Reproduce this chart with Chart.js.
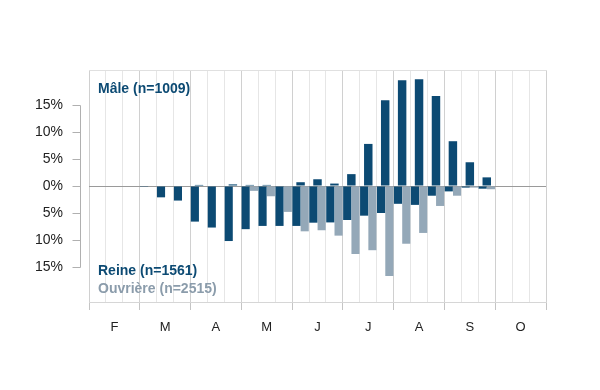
<!DOCTYPE html>
<html>
<head>
<meta charset="utf-8">
<script src="https://cdn.jsdelivr.net/npm/chart.js@4/dist/chart.umd.min.js"></script>
<style>
html,body{margin:0;padding:0;background:#fff;}
#wrap{width:600px;height:390px;position:relative;}
</style>
</head>
<body>
<div id="wrap"><canvas id="c" width="600" height="390"></canvas></div>
<script>
// ---- data (percent per ten-day period) ----
const slots = ['F1','F2','F3','M1','M2','M3','A1','A2','A3','M1b','M2b','M3b','J1','J2','J3',
               'Jl1','Jl2','Jl3','Ao1','Ao2','Ao3','S1','S2','S3','O1','O2','O3'];
const monthLabels = ['F','M','A','M','J','J','A','S','O'];
const male     = [0,0,0,0,0,0,0.2,0,0.3,0.2,0.2,0,0.7,1.25,0.45,2.2,7.8,15.9,19.6,19.8,16.7,8.3,4.4,1.6,0,0,0];
const reine    = [0,0,0,0.15,2.1,2.7,6.6,7.7,10.2,8.0,7.4,7.4,7.4,6.8,6.75,6.3,5.5,5.0,3.3,3.5,1.8,1.0,0.3,0.5,0,0,0];
const ouvriere = [0,0,0,0,0,0,0,0,0,0.9,1.9,4.8,8.4,8.2,9.2,12.6,11.9,16.7,10.7,8.7,3.7,1.8,0.3,0.6,0,0,0];
const yTicks = [-15,-10,-5,0,5,10,15];
const seriesNames = ['Mâle (n=1009)','Reine (n=1561)','Ouvrière (n=2515)'];

const DARK = '#0c4a73';
const LIGHT = '#94a8b8';
const LIGHT_TEXT = '#8b9cab';
const FONT = '"Liberation Sans", Arial, Helvetica, sans-serif';

const decor = {
  id: 'decor',
  afterDraw(chart) {
    const {ctx, chartArea, scales} = chart;
    const y = scales.y;
    const ax = Math.round(chartArea.left) - 9 + 0.5;
    ctx.save();
    ctx.strokeStyle = '#b0b0b0';
    ctx.lineWidth = 1;
    ctx.beginPath();
    ctx.moveTo(ax, Math.round(y.getPixelForValue(yTicks[yTicks.length-1])) + 0.5);
    ctx.lineTo(ax, Math.round(y.getPixelForValue(yTicks[0])) + 0.5);
    yTicks.forEach(v => {
      const py = Math.round(y.getPixelForValue(v)) + 0.5;
      ctx.moveTo(ax - 8, py);
      ctx.lineTo(ax, py);
    });
    ctx.stroke();

    ctx.font = 'bold 14px ' + FONT;
    ctx.textAlign = 'left';
    ctx.textBaseline = 'middle';
    const tx = chartArea.left + 9;
    ctx.fillStyle = DARK;
    ctx.fillText(seriesNames[0], tx, chartArea.top + 19.5);
    ctx.fillText(seriesNames[1], tx, chartArea.bottom - 31);
    ctx.fillStyle = LIGHT_TEXT;
    ctx.fillText(seriesNames[2], tx, chartArea.bottom - 13);
    ctx.restore();
  }
};

new Chart(document.getElementById('c'), {
  type: 'bar',
  data: {
    labels: slots,
    datasets: [
      {
        label: seriesNames[0],
        data: male,
        xAxisID: 'x',
        grouped: false,
        backgroundColor: DARK,
        borderWidth: 0,
        categoryPercentage: 0.5,
        barPercentage: 1.0
      },
      {
        label: seriesNames[1],
        data: reine.map(v => -v),
        xAxisID: 'x',
        backgroundColor: DARK,
        borderWidth: 0,
        categoryPercentage: 0.98,
        barPercentage: 0.98
      },
      {
        label: seriesNames[2],
        data: ouvriere.map(v => -v),
        xAxisID: 'x',
        backgroundColor: LIGHT,
        borderWidth: 0,
        categoryPercentage: 0.98,
        barPercentage: 0.98
      }
    ]
  },
  options: {
    responsive: false,
    animation: false,
    devicePixelRatio: 1,
    layout: { padding: { left: 0, right: 54, top: 70, bottom: 48 } },
    plugins: { legend: { display: false }, tooltip: { enabled: false } },
    scales: {
      x: {
        type: 'category',
        position: 'bottom',
        offset: true,
        grid: {
          offset: true,
          drawTicks: true,
          tickLength: 8,
          color: ctx => (ctx.type !== 'tick' || ctx.index % 3 === 0) ? '#d0d0d0' : '#e6e6e6',
          tickColor: ctx => (ctx.type !== 'tick' || ctx.index % 3 === 0) ? '#c4c4c4' : 'rgba(0,0,0,0)'
        },
        border: { display: true, color: '#d6d6d6' },
        ticks: {
          autoSkip: false,
          maxRotation: 0,
          minRotation: 0,
          padding: 10,
          color: '#222',
          font: { family: FONT, size: 13 },
          callback: (v, i) => (i % 3 === 1) ? monthLabels[(i - 1) / 3] : ''
        },
        afterFit: s => { s.height = 40; }
      },
      x2: {
        type: 'category',
        position: 'top',
        offset: true,
        grid: { display: false, offset: true },
        border: { display: true, color: '#e0e0e0' },
        ticks: { display: false },
        afterFit: s => { s.height = 0; }
      },
      y: {
        min: -21.5,
        max: 21.5,
        afterBuildTicks: s => { s.ticks = yTicks.map(v => ({ value: v })); },
        grid: {
          drawTicks: false,
          color: ctx => (ctx.tick && ctx.tick.value === 0) ? '#9a9a9a' : 'rgba(0,0,0,0)'
        },
        border: { display: false },
        ticks: {
          padding: 26,
          color: '#222',
          font: { family: FONT, size: 14 },
          callback: v => Math.abs(v) + '%'
        },
        afterFit: s => { s.width = 89; }
      }
    }
  },
  plugins: [decor]
});
</script>
</body>
</html>
